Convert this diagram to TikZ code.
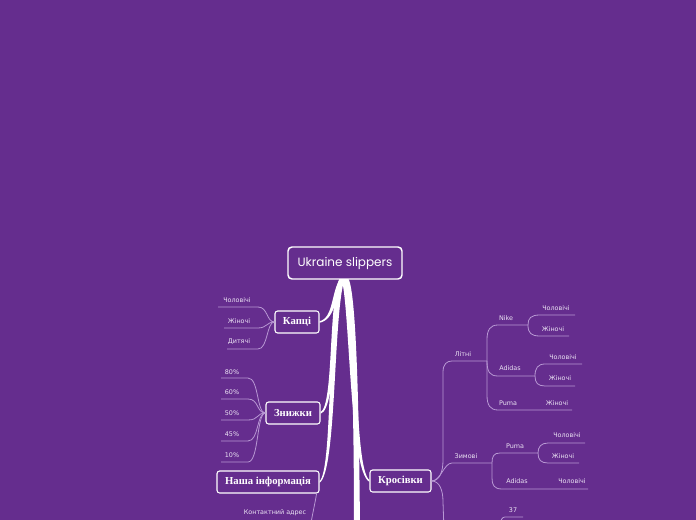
\documentclass[tikz,border=0pt]{standalone}
\usepackage{fontspec}
\usetikzlibrary{calc}
\newfontfamily\leaffont{DejaVu Sans}
\newfontfamily\boxfont{Liberation Serif}
\newfontfamily\rootfont{Poppins}
\definecolor{bg}{RGB}{101,45,142}
\definecolor{linec}{RGB}{184,152,212}
\definecolor{leafc}{RGB}{236,228,244}
\pgfdeclarelayer{background}
\pgfsetlayers{background,main}
\begin{document}
\begin{tikzpicture}[x=0.75pt,y=-0.75pt,
  leaf/.style={text=leafc,font=\leaffont\fontsize{4.8}{5}\selectfont,inner sep=0pt},
  thin/.style={draw=linec,line width=0.6pt},
  topic/.style={draw=white,line width=0.8pt,fill=bg,rounded corners=2pt,text=white,
    font=\boxfont\bfseries\fontsize{8}{9}\selectfont,minimum height=16.5pt,inner sep=0pt},
  rootbox/.style={draw=white,line width=1.1pt,fill=bg,rounded corners=3pt,text=white,
    font=\rootfont\fontsize{9}{10}\selectfont,minimum width=85.5pt,minimum height=24pt,inner sep=0pt},
  branch/.style={fill=white}]
\useasboundingbox (0,0) rectangle (696,520);

% main nodes
\node[rootbox] (root) at (345,263) {Ukraine slippers};
\node[topic,minimum width=33pt] (kapci) at (297,322) {Капці};
\node[topic,minimum width=40.5pt] (zn) at (293,413) {Знижки};
\node[topic,minimum width=76.5pt] (nasha) at (268,482) {Наша інформація};
\node[topic,minimum width=45.75pt] (kros) at (400.5,481) {Кросівки};
\coordinate (down) at (359,530);

\begin{pgfonlayer}{background}
\fill[bg] (0,0) rectangle (696,520);
% thick branches
\fill[branch] ($(root.south)+(-4,-2)$) .. controls (331,290) and (334,318) .. ($(kapci.east)+(0,-0.8)$)
  -- ($(kapci.east)+(0,0.8)$) .. controls (337,319) and (335,292) .. ($(root.south)+(1,-2)$) -- cycle;
\fill[branch] ($(root.south)+(-5,-2)$) .. controls (328,300) and (334,405) .. ($(zn.east)+(0,-0.8)$)
  -- ($(zn.east)+(0,0.8)$) .. controls (338,408) and (332,300) .. ($(root.south)+(0,-2)$) -- cycle;
\fill[branch] ($(root.south)+(-5,-2)$) .. controls (327,310) and (333,470) .. ($(nasha.east)+(0,-0.8)$)
  -- ($(nasha.east)+(0,0.8)$) .. controls (337,472) and (333,310) .. ($(root.south)+(0,-2)$) -- cycle;
\fill[branch] ($(root.south)+(1,-2)$) .. controls (359,300) and (353,468) .. ($(kros.west)+(0,-0.8)$)
  -- ($(kros.west)+(0,0.8)$) .. controls (349,472) and (350,300) .. ($(root.south)+(-4,-2)$) -- cycle;
\fill[branch] ($(root.south)+(-3,-2)$) .. controls (351,290) and (354,400) .. ($(down)+(-5,0)$)
  -- ($(down)+(1,0)$) .. controls (359,400) and (356,290) .. ($(root.south)+(3,-2)$) -- cycle;
\end{pgfonlayer}

% Капці leaves
\node[leaf] (k1) at (237,300) {Чоловічі};
\node[leaf] (k2) at (239,321) {Жіночі};
\node[leaf] (k3) at (239,342) {Дитячі};
\coordinate (k1a) at (218,307); \coordinate (k1b) at (258,307);
\coordinate (k2a) at (224,328); \coordinate (k2b) at (258,328);
\coordinate (k3a) at (227,349); \coordinate (k3b) at (258,349);
\draw[thin] (k1a) -- (k1b) .. controls +(10,0) and +(-8,0) .. (kapci.west);
\draw[thin] (k2a) -- (k2b) .. controls +(9,0) and +(-8,0) .. (kapci.west);
\draw[thin] (k3a) -- (k3b) .. controls +(10,0) and +(-8,0) .. (kapci.west);

% Знижки leaves
\node[leaf] (z1) at (232,372) {80\%};
\node[leaf] (z2) at (232,392) {60\%};
\node[leaf] (z3) at (232,413) {50\%};
\node[leaf] (z4) at (232,434) {45\%};
\node[leaf] (z5) at (232,455) {10\%};
\coordinate (z1a) at (221,378); \coordinate (z1b) at (248,378);
\coordinate (z2a) at (221,399); \coordinate (z2b) at (248,399);
\coordinate (z3a) at (221,420); \coordinate (z3b) at (248,420);
\coordinate (z4a) at (221,441); \coordinate (z4b) at (248,441);
\coordinate (z5a) at (221,462); \coordinate (z5b) at (248,462);
\foreach \i in {1,...,5}{
  \draw[thin] (z\i a) -- (z\i b) .. controls +(11,0) and +(-9,0) .. (zn.west);
}

% Наша інформація
\node[leaf] (kontakt) at (275,513) {Контактний адрес};
\coordinate (kontend) at (310,530);
\draw[thin] ($(nasha.south east)+(-3,0)$) .. controls +(-1,8) and +(1,-10) .. (kontend);

% Кросівки
\node[leaf] (lit) at (463,354) {Літні};
\node[leaf] (zym) at (466,456) {Зимові};
\node[leaf] (n37) at (513,510) {37};
\coordinate (litE) at (487,361);
\coordinate (zymE) at (492,463);
\coordinate (krosdown) at (444,530);
\draw[thin] (kros.east) .. controls +(8,0) and +(0,12) .. (443,460) -- (443,372)
  .. controls +(0,-8) and +(-5,0) .. (452,361) -- (litE);
\draw[thin] (kros.east) .. controls +(9,0) and +(-8,0) .. (452,463) -- (zymE);
\draw[thin] (kros.east) .. controls +(8,0) and +(0,-12) .. (443,502) -- (krosdown);
\coordinate (n37a) at (523,517); \coordinate (n37b) at (505,517);
\draw[thin] (n37a) -- (n37b) .. controls +(-3,0) and +(1,-4) .. (500,524);

% Літні branch
\node[leaf] (nike) at (506,318) {Nike};
\node[leaf] (adl) at (510,368) {Adidas};
\node[leaf] (pul) at (508,403) {Puma};
\node[leaf] (pulz) at (557,403) {Жіночі};
\coordinate (nikeE) at (528,325);
\coordinate (adlE) at (535,376);
\coordinate (pulE) at (572,410);
\draw[thin] (nikeE) -- (498,325) .. controls (490,325) and (487,330) .. (487,340) -- (litE)
  -- (487,395) .. controls (487,405) and (490,410) .. (498,410) -- (pulE);
\draw[thin] (litE) .. controls (487,372) and (490,376) .. (498,376) -- (adlE);
\node[leaf] (nch) at (556,308) {Чоловічі};
\node[leaf] (nzh) at (553,329) {Жіночі};
\draw[thin] (575,315) -- (540,315) .. controls (531,315) and (528,318) .. (nikeE)
  .. controls (528,333) and (531,336) .. (540,336) -- (569,336);
\node[leaf] (ach) at (563,357) {Чоловічі};
\node[leaf] (azh) at (560,378) {Жіночі};
\draw[thin] (582,364) -- (545,364) .. controls (538,364) and (535,368) .. (adlE)
  .. controls (535,383) and (538,386) .. (545,386) -- (575,386);

% Зимові branch
\node[leaf] (puw) at (515,446) {Puma};
\node[leaf] (adw) at (517,481) {Adidas};
\node[leaf] (adwch) at (572,481) {Чоловічі};
\coordinate (puwE) at (538,453);
\coordinate (adwE) at (588,489);
\draw[thin] (puwE) -- (500,453) .. controls (494,453) and (492,456) .. (zymE)
  -- (492,478) .. controls (492,485) and (494,489) .. (502,489) -- (adwE);
\node[leaf] (pwch) at (567,435) {Чоловічі};
\node[leaf] (pwzh) at (563,456) {Жіночі};
\draw[thin] (585,443) -- (548,443) .. controls (541,443) and (538,447) .. (puwE)
  .. controls (538,460) and (541,463) .. (548,463) -- (579,463);
\end{tikzpicture}
\end{document}
